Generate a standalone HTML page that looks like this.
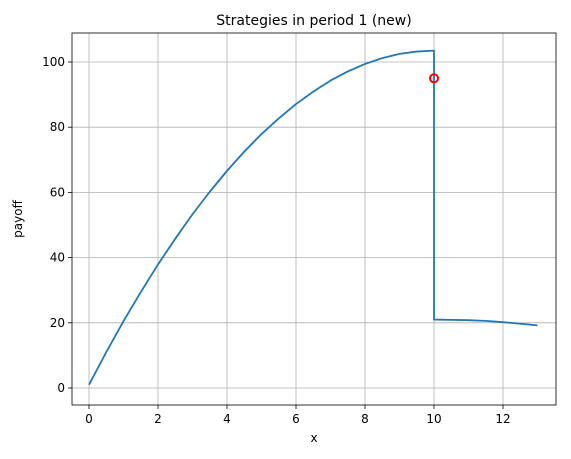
<!DOCTYPE html>
<html><head><meta charset="utf-8"><style>
body{margin:0;background:#fff;font-family:"DejaVu Sans","Liberation Sans",sans-serif;}
svg text{font-family:"DejaVu Sans","Liberation Sans",sans-serif;fill:#000;}
</style></head><body>
<svg id="chart" width="571" height="455" xmlns="http://www.w3.org/2000/svg">
<text x="314" y="25" font-size="14" text-anchor="middle">Strategies in period 1 (new)</text>
<text x="314" y="442" font-size="12" text-anchor="middle">x</text>
<text transform="translate(22,219) rotate(-90)" font-size="12" text-anchor="middle">payoff</text>
<g id="grid"></g>
<g id="ticks"></g>
<path id="line" fill="none" stroke="#1f77b4" stroke-width="1.8" stroke-linejoin="round"/>
<circle id="marker" r="4" fill="none" stroke="#ff0000" stroke-width="2"/>
<rect x="72" y="33" width="484" height="372" fill="none" stroke="#000" stroke-width="0.8"/>
</svg>
<script>
const xs = [0,0.5,1,1.5,2,2.5,3,3.5,4,4.5,5,5.5,6,6.5,7,7.5,8,8.5,9,9.5,10,10,10.5,11,11.5,12,12.5,13];
const ys = [1,11,20.5,29.4,37.9,45.8,53.3,60.2,66.6,72.5,77.9,82.7,87.1,90.9,94.3,97.1,99.4,101.2,102.5,103.2,103.5,21,20.9,20.8,20.6,20.2,19.7,19.2];
const markerPt = [10,95];
const xTicks = [0,2,4,6,8,10,12];
const yTicks = [0,20,40,60,80,100];
function sx(v){return 89+v*34.5;}
function sy(v){return 388-v*3.26;}
const NS="http://www.w3.org/2000/svg";
const grid=document.getElementById('grid'), ticks=document.getElementById('ticks');
function mk(t,a,p){const e=document.createElementNS(NS,t);for(const k in a)e.setAttribute(k,a[k]);p.appendChild(e);return e;}
xTicks.forEach(v=>{
 const g=mk('line',{x1:sx(v),x2:sx(v),y1:33,y2:405,stroke:'#b0b0b0','stroke-width':0.8},grid);
 
 
 const t=mk('line',{x1:sx(v),x2:sx(v),y1:405,y2:409,stroke:'#000','stroke-width':0.8},ticks);
 
 
 const l=mk('text',{x:sx(v),y:423,'font-size':12,'text-anchor':'middle'},ticks);l.textContent=v;
 
 
});
yTicks.forEach(v=>{
 const g=mk('line',{x1:72,x2:556,y1:sy(v),y2:sy(v),stroke:'#b0b0b0','stroke-width':0.8},grid);
 
 
 const t=mk('line',{x1:68,x2:72,y1:sy(v),y2:sy(v),stroke:'#000','stroke-width':0.8},ticks);
 
 
 const l=mk('text',{x:65,y:sy(v)+4,'font-size':12,'text-anchor':'end'},ticks);l.textContent=v;
 
 
});
document.getElementById('line').setAttribute('d',xs.map((x,i)=>(i?'L':'M')+sx(x)+','+sy(ys[i])).join(''));
const m=document.getElementById('marker');m.setAttribute('cx',sx(markerPt[0]));m.setAttribute('cy',sy(markerPt[1]));
</script>
</body></html>
